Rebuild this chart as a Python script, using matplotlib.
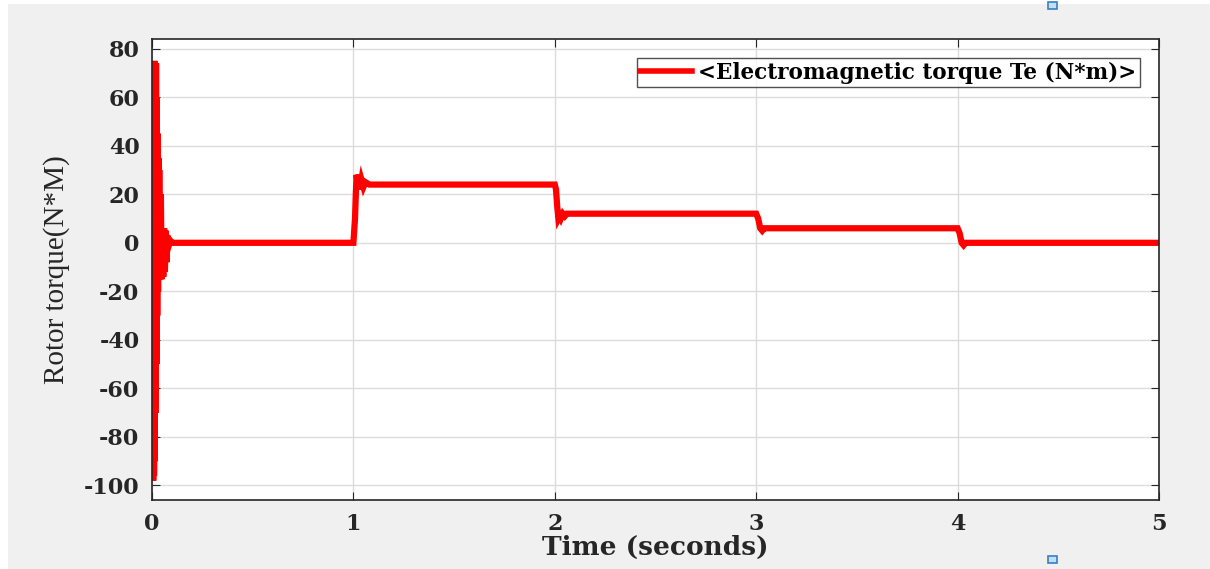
import matplotlib
matplotlib.use("Agg")
import matplotlib.pyplot as plt
from matplotlib.patches import Rectangle

plt.rcParams["axes.unicode_minus"] = False

# torque trace (time in s, torque in N*m)
time_s = [0.000, 0.002, 0.004, 0.006, 0.008, 0.010, 0.012, 0.014, 0.016, 0.018,
          0.020, 0.022, 0.024, 0.026, 0.028, 0.030, 0.032, 0.034, 0.036, 0.040,
          0.044, 0.048, 0.052, 0.056, 0.060, 0.064, 0.068, 0.072, 0.076, 0.080,
          0.090, 0.100, 0.110,
          1.000, 1.004, 1.008, 1.012, 1.016, 1.020, 1.026, 1.032, 1.040, 1.050,
          1.060, 1.080, 1.100,
          2.000, 2.006, 2.012, 2.018, 2.024, 2.030, 2.040, 2.050, 2.060, 2.080,
          3.000, 3.010, 3.020, 3.030, 3.040, 3.060,
          4.000, 4.010, 4.020, 4.030, 4.040, 4.060,
          5.000]
torque = [0, -12, 25, -98, 74, -96, 75, -90, 74, -70,
          74, -50, 60, -30, 45, -20, 35, -15, 30, -15,
          20, -15, 5, -14, 6, -12, 5, -8, 3, -2,
          1, 0, 0,
          0, 5, 10, 20, 28, 25, 28, 22, 26, 23,
          25, 24, 24,
          24, 22, 15, 10, 11, 10, 12, 11, 12, 12,
          12, 10, 6, 5, 6, 6,
          6, 4, 0, -1, 0, 0,
          0]

y_ticks = [-100, -80, -60, -40, -20, 0, 20, 40, 60, 80]
x_ticks = [0, 1, 2, 3, 4, 5]

fig = plt.figure(figsize=(12.1, 5.69), dpi=100, facecolor="white")
# grey window background like the scope window
fig.patches.append(Rectangle((8 / 1210, 0), 1, 1 - 4 / 569, transform=fig.transFigure,
                             facecolor="#f0f0f0", edgecolor="none", zorder=-10))
for yy in (6, 560):
    fig.patches.append(Rectangle(((1048) / 1210, 1 - (yy + 3) / 569), 9 / 1210, 7 / 569,
                                 transform=fig.transFigure, facecolor="#bfe0f7",
                                 edgecolor="#3a7fc0", lw=1.2))

ax = fig.add_axes([152 / 1210, 1 - 500 / 569, (1159 - 152) / 1210, (500 - 39) / 569])
ax.plot(time_s, torque, color="#ff0000", lw=4.5, solid_joinstyle="miter",
        label="<Electromagnetic torque Te (N*m)>")

ax.set_xlim(0, 5)
ax.set_ylim(-106, 84)
ax.set_xticks(x_ticks)
ax.set_yticks(y_ticks)
ax.grid(True, color="#dcdcdc", lw=1)
ax.set_axisbelow(True)
ax.tick_params(direction="in", top=True, right=True, length=6, colors="#262626",
               labelsize=16, pad=9)
for lbl in ax.get_xticklabels() + ax.get_yticklabels():
    lbl.set_fontfamily("DejaVu Serif")
    lbl.set_fontweight("bold")
for sp in ax.spines.values():
    sp.set_color("#262626")
    sp.set_linewidth(1.2)

ax.set_xlabel("Time (seconds)", fontfamily="DejaVu Serif", fontweight="bold",
              fontsize=19, color="#262626", labelpad=0)
ax.set_ylabel("Rotor torque(N*M)", fontfamily="Liberation Serif", fontsize=21,
              color="#262626", labelpad=10)

leg = ax.legend(loc="upper right", prop={"family": "DejaVu Serif", "weight": "bold", "size": 15.5},
                frameon=True, fancybox=False, handlelength=2.4, borderpad=0.15,
                borderaxespad=0.9, handletextpad=0.3)
leg.get_frame().set_edgecolor("#262626")
leg.get_frame().set_linewidth(1.0)
leg.get_lines()[0].set_linewidth(4)

fig.savefig("out.png", dpi=100)
